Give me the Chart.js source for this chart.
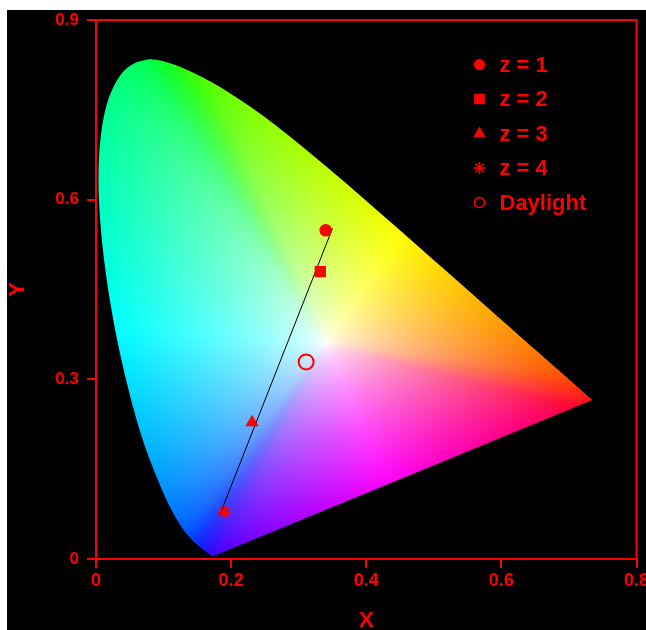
<!DOCTYPE html>
<html>
<head>
<meta charset="utf-8">
<script src="https://cdn.jsdelivr.net/npm/chart.js@4/dist/chart.umd.min.js"></script>
<style>
  html, body { margin: 0; padding: 0; background: #fff; overflow: hidden; }
  #box { position: absolute; left: 7px; top: 10px; width: 639px; height: 620px; background: #000; }
</style>
</head>
<body>
<div id="box"><canvas id="cie"></canvas></div>
<script>
// CIE 1931 spectral locus (380 - 700 nm)
const locusX = [0.1741, 0.1740, 0.1738, 0.1736, 0.1733, 0.1730, 0.1726, 0.1721, 0.1714, 0.1703,
  0.1689, 0.1669, 0.1644, 0.1611, 0.1566, 0.1510, 0.1440, 0.1355, 0.1241, 0.1096,
  0.0913, 0.0687, 0.0454, 0.0235, 0.0082, 0.0039, 0.0139, 0.0389, 0.0743, 0.1142,
  0.1547, 0.1929, 0.2296, 0.2658, 0.3016, 0.3373, 0.3731, 0.4087, 0.4441, 0.4788,
  0.5125, 0.5448, 0.5752, 0.6029, 0.6270, 0.6482, 0.6658, 0.6801, 0.6915, 0.7006,
  0.7079, 0.7140, 0.7190, 0.7230, 0.7260, 0.7300, 0.7347, 0.7347];
const locusY = [0.0050, 0.0050, 0.0049, 0.0049, 0.0048, 0.0048, 0.0048, 0.0048, 0.0051, 0.0058,
  0.0069, 0.0086, 0.0109, 0.0138, 0.0177, 0.0227, 0.0297, 0.0399, 0.0578, 0.0868,
  0.1327, 0.2007, 0.2950, 0.4127, 0.5384, 0.6548, 0.7502, 0.8120, 0.8338, 0.8262,
  0.8059, 0.7816, 0.7543, 0.7243, 0.6923, 0.6589, 0.6245, 0.5896, 0.5547, 0.5202,
  0.4866, 0.4544, 0.4242, 0.3965, 0.3725, 0.3514, 0.3340, 0.3197, 0.3083, 0.2993,
  0.2920, 0.2859, 0.2809, 0.2770, 0.2740, 0.2700, 0.2653, 0.2653];

// measured points
const seriesLabels = ['z = 1', 'z = 2', 'z = 3', 'z = 4', 'Daylight'];
const pointX = [0.340, 0.332, 0.231, 0.190, 0.311];
const pointY = [0.549, 0.480, 0.228, 0.079, 0.329];

// straight line through the z points
const fitX = [0.350, 0.184];
const fitY = [0.552, 0.076];

const xTicks = [0, 0.2, 0.4, 0.6, 0.8];
const yTicks = [0, 0.3, 0.6, 0.9];

const RED = '#ff0000';
const FONT = 'Liberation Sans, Arial, sans-serif';
const WHITE_PT = [0.34, 0.36]; // centre of the colour fan

// marker styles: [pointStyle, radius, legend radius, filled]
const markers = [
  ['circle', 6.3, 5.5, true],
  ['rect', 8, 7.5, true],
  ['triangle', 7.8, 7, true],
  ['star', 6.5, 6, false],
  ['circle', 7.5, 5, false]
];

const datasets = seriesLabels.map((label, i) => ({
  type: 'scatter',
  label: label,
  data: [{ x: pointX[i], y: pointY[i] }],
  pointStyle: markers[i][0],
  pointRadius: markers[i][1],
  legendRadius: markers[i][2],
  backgroundColor: markers[i][3] ? RED : 'rgba(0,0,0,0)',
  borderColor: RED,
  borderWidth: markers[i][3] ? 0 : 2,
  order: 0
}));
datasets.push({
  type: 'line',
  label: 'fit',
  data: fitX.map((v, i) => ({ x: v, y: fitY[i] })),
  borderColor: '#000',
  borderWidth: 1,
  pointRadius: 0,
  fill: false,
  noLegend: true,
  order: 1
});

// XYZ -> RGB matrix for wide gamut primaries (700, 525, 450 nm), white E
function xyz(cx, cy) { return [cx / cy, 1, (1 - cx - cy) / cy]; }
function inv3(m) {
  const [a, b, c] = m[0], [d, e, f] = m[1], [g, h, i] = m[2];
  const A = e * i - f * h, B = -(d * i - f * g), C = d * h - e * g;
  const det = a * A + b * B + c * C;
  return [
    [A / det, -(b * i - c * h) / det, (b * f - c * e) / det],
    [B / det, (a * i - c * g) / det, -(a * f - c * d) / det],
    [C / det, -(a * h - b * g) / det, (a * e - b * d) / det]
  ];
}
const prim = [xyz(0.7347, 0.2653), xyz(0.1152, 0.8264), xyz(0.1566, 0.0177)];
const P = [0, 1, 2].map(r => prim.map(p => p[r]));
const Pi = inv3(P);
const W = xyz(1 / 3, 1 / 3);
const S = Pi.map(row => row[0] * W[0] + row[1] * W[1] + row[2] * W[2]);
const M = inv3(P.map(row => row.map((v, k) => v * S[k])));

// fully saturated colour for a boundary chromaticity
function edgeColor(cx, cy) {
  const v = xyz(cx, Math.max(cy, 0.004));
  let [r, g, b] = M.map(row => row[0] * v[0] + row[1] * v[1] + row[2] * v[2]);
  const m = Math.min(r, g, b);
  r -= m; g -= m; b -= m;
  const mx = Math.max(r, g, b);
  const gam = c => {
    c = c / mx;
    return c <= 0.0031308 ? 12.92 * c : 1.055 * Math.pow(c, 1 / 2.4) - 0.055;
  };
  return [gam(r) * 255, gam(g) * 255, gam(b) * 255];
}

// dense closed outline (data space) through the locus points
function outline() {
  const n = locusX.length, out = [];
  const p = k => [locusX[Math.min(Math.max(k, 0), n - 1)], locusY[Math.min(Math.max(k, 0), n - 1)]];
  for (let k = 0; k < n - 1; k++) {
    const p0 = p(k - 1), p1 = p(k), p2 = p(k + 1), p3 = p(k + 2);
    for (let s = 0; s < 8; s++) {
      const t = s / 8, t2 = t * t, t3 = t2 * t;
      out.push([0, 1].map(d => 0.5 * ((2 * p1[d]) + (-p0[d] + p2[d]) * t +
        (2 * p0[d] - 5 * p1[d] + 4 * p2[d] - p3[d]) * t2 + (-p0[d] + 3 * p1[d] - 3 * p2[d] + p3[d]) * t3)));
    }
  }
  const last = p(n - 1), first = p(0);
  for (let s = 0; s < 60; s++) {
    const t = s / 60;
    out.push([last[0] + (first[0] - last[0]) * t, last[1] + (first[1] - last[1]) * t]);
  }
  return out;
}

let gamutImg = null;
function buildGamut(chart) {
  const { chartArea: a, scales: { x, y } } = chart;
  const w = Math.round(a.right - a.left), h = Math.round(a.bottom - a.top);
  const poly = outline();
  const BINS = 4096, dist = new Float32Array(BINS), raw = [];
  for (let b = 0; b < BINS; b++) {
    const th = (b / BINS) * 2 * Math.PI - Math.PI;
    const ux = Math.cos(th), uy = Math.sin(th);
    let best = 0;
    for (let k = 0; k < poly.length; k++) {
      const A = poly[k], B = poly[(k + 1) % poly.length];
      const ex = B[0] - A[0], ey = B[1] - A[1];
      const den = ux * ey - uy * ex;
      if (Math.abs(den) < 1e-12) continue;
      const ax = A[0] - WHITE_PT[0], ay = A[1] - WHITE_PT[1];
      const tr = (ax * ey - ay * ex) / den;
      const ts = (ax * uy - ay * ux) / den;
      if (tr > 0 && ts >= 0 && ts <= 1 && tr > best) best = tr;
    }
    dist[b] = best;
    raw.push(edgeColor(WHITE_PT[0] + ux * best, WHITE_PT[1] + uy * best));
  }
  // soften the hue jumps at the two ends of the line of purples
  const HW = 40, cols = [];
  for (let b = 0; b < BINS; b++) {
    const acc = [0, 0, 0];
    for (let d = -HW; d <= HW; d++) {
      const c = raw[(b + d + BINS) % BINS];
      acc[0] += c[0]; acc[1] += c[1]; acc[2] += c[2];
    }
    cols.push(acc.map(v => v / (2 * HW + 1)));
  }
  gamutImg = document.createElement('canvas');
  gamutImg.width = w; gamutImg.height = h;
  const octx = gamutImg.getContext('2d');
  const img = octx.createImageData(w, h);
  for (let j = 0; j < h; j++) {
    const cy = y.getValueForPixel(a.top + j + 0.5);
    for (let i = 0; i < w; i++) {
      const cx = x.getValueForPixel(a.left + i + 0.5);
      const dx = cx - WHITE_PT[0], dy = cy - WHITE_PT[1];
      let b = Math.floor(((Math.atan2(dy, dx) + Math.PI) / (2 * Math.PI)) * BINS);
      if (b >= BINS) b = BINS - 1;
      const t = Math.pow(Math.min(Math.sqrt(dx * dx + dy * dy) / dist[b], 1), 0.7);
      const c = cols[b];
      const k = (j * w + i) * 4;
      img.data[k] = 255 + (c[0] - 255) * t;
      img.data[k + 1] = 255 + (c[1] - 255) * t;
      img.data[k + 2] = 255 + (c[2] - 255) * t;
      img.data[k + 3] = 255;
    }
  }
  octx.putImageData(img, 0, 0);
}

const gamutPlugin = {
  id: 'gamut',
  beforeDatasetsDraw(chart) {
    const { ctx, chartArea: a, scales: { x, y } } = chart;
    if (!gamutImg) buildGamut(chart);
    const pts = locusX.map((v, k) => [x.getPixelForValue(v), y.getPixelForValue(locusY[k])]);
    const n = pts.length;
    ctx.save();
    ctx.beginPath();
    ctx.moveTo(pts[0][0], pts[0][1]);
    for (let k = 0; k < n - 1; k++) {
      const p0 = pts[Math.max(k - 1, 0)], p1 = pts[k], p2 = pts[k + 1], p3 = pts[Math.min(k + 2, n - 1)];
      ctx.bezierCurveTo(
        p1[0] + (p2[0] - p0[0]) / 6, p1[1] + (p2[1] - p0[1]) / 6,
        p2[0] - (p3[0] - p1[0]) / 6, p2[1] - (p3[1] - p1[1]) / 6,
        p2[0], p2[1]);
    }
    ctx.closePath();
    ctx.clip();
    ctx.drawImage(gamutImg, a.left, a.top);
    ctx.restore();
  },
  afterDatasetsDraw(chart) {
    const { ctx, chartArea: a } = chart;
    ctx.save();
    ctx.strokeStyle = RED;
    ctx.lineWidth = 2;
    ctx.strokeRect(a.left, a.top, a.right - a.left, a.bottom - a.top);
    ctx.restore();
  }
};

// legend in the top right corner of the plot
const legendPlugin = {
  id: 'cornerLegend',
  afterDraw(chart) {
    const { ctx, chartArea: a } = chart;
    const mx = a.right - 157;
    let row = 0;
    ctx.save();
    chart.data.datasets.forEach(ds => {
      if (ds.noLegend) return;
      const yy = a.top + 44.5 + row * 34.5;
      ctx.fillStyle = ds.backgroundColor;
      ctx.strokeStyle = ds.borderColor;
      ctx.lineWidth = ds.borderWidth ? 1.6 : 0;
      Chart.helpers.drawPoint(ctx, {
        pointStyle: ds.pointStyle, radius: ds.legendRadius, rotation: 0, borderWidth: ds.borderWidth
      }, mx, yy);
      ctx.fillStyle = RED;
      ctx.font = 'bold 22px ' + FONT;
      ctx.textAlign = 'left';
      ctx.textBaseline = 'middle';
      ctx.fillText(ds.label, mx + 20, yy + 1);
      row++;
    });
    ctx.restore();
  }
};

new Chart(document.getElementById('cie'), {
  data: { datasets: datasets },
  options: {
    responsive: true,
    maintainAspectRatio: false,
    animation: false,
    layout: { padding: { left: 0, top: 10, right: 9, bottom: 0 } },
    plugins: {
      legend: { display: false },
      tooltip: { enabled: false }
    },
    scales: {
      x: {
        type: 'linear',
        position: 'bottom',
        min: 0,
        max: 0.8,
        afterBuildTicks: s => { s.ticks = xTicks.map(v => ({ value: v })); },
        afterFit: s => { s.height = 71; s.paddingLeft = 0; s.paddingRight = 0; },
        grid: { display: true, drawOnChartArea: false, tickLength: 9, color: RED, lineWidth: 2 },
        border: { display: true, color: RED, width: 2 },
        ticks: {
          color: RED,
          padding: 2,
          maxRotation: 0,
          autoSkip: false,
          font: { family: FONT, size: 18, weight: 'bold' }
        },
        title: {
          display: true,
          text: 'X',
          color: RED,
          padding: { top: 0, bottom: -1.5 },
          font: { family: FONT, size: 22, weight: 'bold', lineHeight: 1 }
        }
      },
      y: {
        type: 'linear',
        position: 'left',
        min: 0,
        max: 0.9,
        afterBuildTicks: s => { s.ticks = yTicks.map(v => ({ value: v })); },
        afterFit: s => { s.width = 89; s.paddingTop = 0; s.paddingBottom = 0; },
        grid: { display: true, drawOnChartArea: false, tickLength: 9, color: RED, lineWidth: 2 },
        border: { display: true, color: RED, width: 2 },
        ticks: {
          color: RED,
          padding: 8,
          autoSkip: false,
          font: { family: FONT, size: 17, weight: 'bold' }
        },
        title: {
          display: true,
          text: 'Y',
          color: RED,
          padding: { top: 0, bottom: 0 },
          font: { family: FONT, size: 22, weight: 'bold', lineHeight: 1 }
        }
      }
    }
  },
  plugins: [gamutPlugin, legendPlugin]
});
</script>
</body>
</html>
